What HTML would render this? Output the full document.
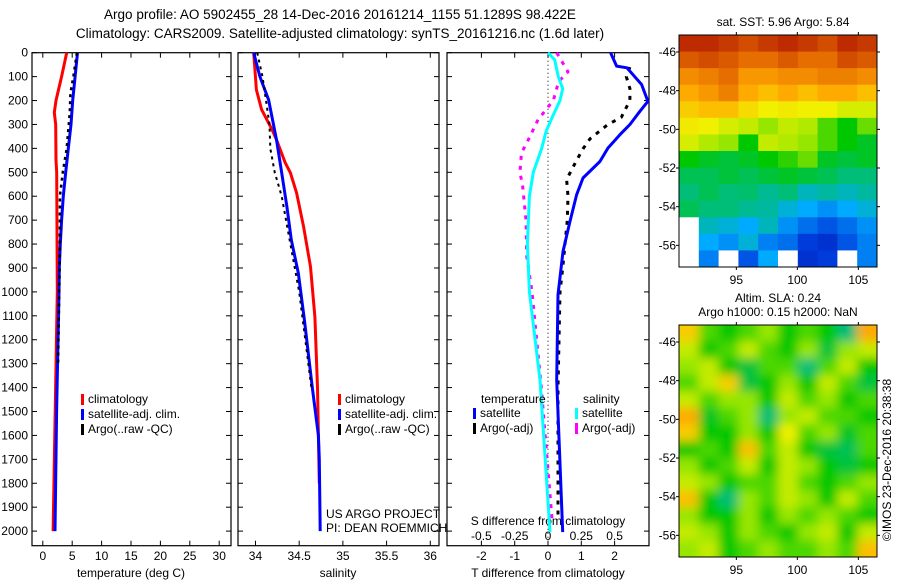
<!DOCTYPE html>
<html><head><meta charset="utf-8"><style>
body{margin:0;background:#fff;}
svg{display:block;font-family:"Liberation Sans",sans-serif;}
</style></head><body>
<svg id="c" width="900" height="580" viewBox="0 0 900 580" xmlns="http://www.w3.org/2000/svg">
<defs>
<filter id="blur" x="-5%" y="-5%" width="110%" height="110%"><feGaussianBlur stdDeviation="5"/></filter>
<clipPath id="slaclip"><rect x="679" y="325" width="198" height="232"/></clipPath>
<clipPath id="sstclip"><rect x="679" y="35" width="198" height="232"/></clipPath>
</defs>
<text x="340" y="19" font-size="13.5" text-anchor="middle">Argo profile: AO 5902455_28 14-Dec-2016 20161214_1155 51.1289S 98.422E</text>
<text x="340" y="38" font-size="13.5" text-anchor="middle">Climatology: CARS2009. Satellite-adjusted climatology: synTS_20161216.nc (1.6d later)</text>
<g id="g"></g>
</svg>
<script>
// ---------- profile data (depth in m) ----------
const climTDepth=[0,100,200,250,300,450,500,1000,2000];
const climTVal=[4.06,3.2,2.25,1.96,2.2,2.25,2.36,2.47,1.75];
const satTDepth=[0,100,200,300,400,500,600,700,800,900,1000,1500,2000];
const satTVal=[5.9,5.5,5.08,4.8,4.34,3.9,3.49,3.2,2.98,2.8,2.75,2.35,2.08];
const argoTDepth=[0,100,170,250,400,500,600,800,900,1300];
const argoTVal=[5.8,5.2,4.7,4.6,4.06,3.4,2.9,2.9,2.85,2.6];
const climSDepth=[0,155,238,322,364,460,502,586,728,895,1105,1400,1800];
const climSVal=[33.98,34.01,34.07,34.19,34.24,34.34,34.40,34.47,34.55,34.63,34.68,34.71,34.73];
const satSDepth=[0,100,197,364,502,644,782,921,1117,1400,1600,1700,2000];
const satSVal=[33.98,34.05,34.15,34.24,34.30,34.36,34.41,34.49,34.56,34.65,34.72,34.73,34.74];
const argoSDepth=[0,100,200,300,400,500,600,800,1000,1200,1400];
const argoSVal=[34.02,34.08,34.12,34.16,34.17,34.22,34.30,34.40,34.50,34.57,34.64];
const dTsatDepth=[0,56,63,133,203,245,300,343,399,455,524,594,705,831,1012,1368,2004];
const dTsatVal=[1.88,2.06,2.37,2.81,3.0,2.76,2.46,2.16,1.8,1.56,1.05,0.86,0.66,0.45,0.3,0.26,0.44];
const dTargoDepth=[60,100,150,200,270,300,360,400,450,530,600,700,800,900,1000,1400,1950];
const dTargoVal=[2.46,2.35,2.46,2.46,2.2,1.8,1.26,1.06,0.86,0.56,0.6,0.58,0.51,0.44,0.36,0.3,0.3];
const dSsatDepth=[0,30,100,150,200,260,330,400,500,600,800,1000,1368,2004];
const dSsatVal=[0,0.05,0.077,0.11,0.09,0.04,-0.015,-0.047,-0.11,-0.14,-0.155,-0.14,-0.06,0.015];
const dSargoDepth=[0,80,120,200,280,350,420,500,560,700,850,1000,1400,1950];
const dSargoVal=[0.065,0.15,0.08,0.04,-0.075,-0.135,-0.2,-0.21,-0.19,-0.165,-0.16,-0.12,-0.05,0.03];
const depthTicks=[0,100,200,300,400,500,600,700,800,900,1000,1100,1200,1300,1400,1500,1600,1700,1800,1900,2000];
const tTicks=[0,5,10,15,20,25,30];
const sTicks=[34,34.5,35,35.5,36];
const sTickLabels=["34","34.5","35","35.5","36"];
const dTTicks=[-2,-1,0,1,2];
const dSTicks=[-0.5,-0.25,0,0.25,0.5];
const dSTickLabels=["-0.5","-0.25","0","0.25","0.5"];
// ---------- map data (0..1 colour scale, -1 = no data) ----------
const sstGrid=[
[.95,.95,.93,.9,.93,.95,.93,.9,.95,.93],
[.88,.9,.88,.85,.85,.88,.85,.85,.9,.88],
[.8,.82,.85,.78,.78,.8,.8,.82,.82,.8],
[.75,.78,.82,.75,.72,.75,.72,.75,.75,.72],
[.7,.72,.72,.68,.65,.66,.65,.65,.62,.62],
[.66,.65,.62,.6,.55,.6,.58,.5,.45,.52],
[.62,.58,.55,.45,.6,.58,.55,.5,.45,.42],
[.45,.42,.4,.42,.45,.48,.52,.42,.4,.42],
[.38,.38,.4,.38,.4,.42,.4,.38,.35,.35],
[.35,.38,.35,.36,.33,.35,.3,.32,.3,.32],
[.38,.35,.35,.33,.32,.28,.25,.22,.25,.28],
[-1,.3,.28,.25,.3,.22,.18,.15,.18,.22],
[-1,.25,.22,.28,.2,.18,.12,.1,.15,.2],
[-1,.2,-1,.15,.25,-1,.1,.12,-1,.2]];
const slaGrid=[
[.7,.5,.45,.5,.55,.45,.5,.45,.35,.75],
[.6,.45,.5,.6,.5,.45,.55,.4,.55,.6],
[.55,.6,.45,.4,.5,.5,.35,.5,.6,.45],
[.5,.6,.7,.4,.45,.55,.45,.6,.5,.4],
[.6,.5,.55,.55,.45,.6,.5,.55,.45,.5],
[.75,.42,.5,.55,.35,.55,.6,.5,.5,.45],
[.7,.45,.45,.55,.45,.65,.5,.55,.42,.5],
[.45,.5,.45,.72,.5,.6,.45,.4,.38,.5],
[.55,.45,.5,.6,.45,.6,.55,.45,.4,.45],
[.6,.55,.45,.5,.5,.6,.5,.45,.5,.55],
[.72,.45,.35,.55,.5,.6,.55,.45,.6,.5],
[.55,.45,.45,.55,.45,.55,.5,.55,.5,.45],
[.6,.55,.45,.55,.5,.45,.55,.6,.45,.6],
[.55,.6,.45,.5,.55,.5,.5,.55,.5,.72]];
const latTicks=[-46,-48,-50,-52,-54,-56];
const lonTicks=[95,100,105];

const NS="http://www.w3.org/2000/svg";
const G=document.getElementById('g');
function mk(tag,attrs,parent,txt){const e=document.createElementNS(NS,tag);for(const k in attrs)e.setAttribute(k,attrs[k]);if(txt!==undefined)e.textContent=txt;(parent||G).appendChild(e);return e;}
const yD=d=>52.7+d*0.2392;
const xT=t=>42.8+t*5.88;
const xS=s=>238+(s-33.8)*87.4;
const xDT=t=>548+t*33.3;
const xDS=s=>548+s*133.2;
const TOP=52.7,BOT=545.7;

function panel(x0,x1,name){
  const r=mk('rect',{x:x0,y:TOP,width:x1-x0,height:BOT-TOP,fill:'none',stroke:'#000','stroke-width':1.2});
  
  depthTicks.forEach(d=>{const y=yD(d);
    const t1=mk('line',{x1:x0,x2:x0+5,y1:y,y2:y,stroke:'#000'});
    const t2=mk('line',{x1:x1-5,x2:x1,y1:y,y2:y,stroke:'#000'});});
}
function xticks(vals,labels,fx,name,ly,top){
  vals.forEach((v,i)=>{const x=fx(v);
    const a=mk('line',{x1:x,x2:x,y1:BOT-5,y2:BOT,stroke:'#000'});
    if(top){const b=mk('line',{x1:x,x2:x,y1:TOP,y2:TOP+5,stroke:'#000'});}
    const t=mk('text',{x:x,y:ly,'font-size':12,'text-anchor':'middle'},G,labels[i]);});
}
function line(ds,vs,fx,color,name,dash,w){
  const pts=ds.map((d,i)=>fx(vs[i]).toFixed(1)+','+yD(d).toFixed(1)).join(' ');
  const a={points:pts,fill:'none',stroke:color,'stroke-width':w||3,'stroke-linejoin':'round'};
  if(dash)a['stroke-dasharray']=dash;
  const p=mk('polyline',a);
}
function legend(x,y,color,label,name){
  const b=mk('rect',{x:x,y:y-9,width:3,height:11,fill:color});
  const t=mk('text',{x:x+7,y:y,'font-size':12},G,label);
}
panel(32,231,'temperature-panel');panel(238,439,'salinity-panel');panel(447,649,'difference-panel');
depthTicks.forEach(d=>{const t=mk('text',{x:28,y:yD(d)+4,'font-size':12,'text-anchor':'end'},G,String(d));});
xticks(tTicks,tTicks.map(String),xT,'temperature-axis',560,true);
xticks(sTicks,sTickLabels,xS,'salinity-axis',560,true);
xticks(dTTicks,dTTicks.map(String),xDT,'t-diff-axis',560,true);
dSTicks.forEach((v,i)=>{const t=mk('text',{x:xDS(v),y:540,'font-size':12,'text-anchor':'middle'},G,dSTickLabels[i]);});
let t;
t=mk('text',{x:131,y:577,'font-size':12,'text-anchor':'middle'},G,'temperature (deg C)');
t=mk('text',{x:338,y:577,'font-size':12,'text-anchor':'middle'},G,'salinity');
t=mk('text',{x:548,y:577,'font-size':12,'text-anchor':'middle'},G,'T difference from climatology');
t=mk('text',{x:548,y:525,'font-size':12,'text-anchor':'middle'},G,'S difference from climatology');
t=mk('text',{x:326,y:518,'font-size':12},G,'US ARGO PROJECT');
t=mk('text',{x:326,y:532,'font-size':12},G,'PI: DEAN ROEMMICH');
const z=mk('line',{x1:xDT(0),x2:xDT(0),y1:TOP,y2:BOT,stroke:'#000','stroke-dasharray':'1 3'});
line(climTDepth,climTVal,xT,'#f00','temperature-climatology-line');
line(satTDepth,satTVal,xT,'#00f','temperature-satellite-line');
line(argoTDepth,argoTVal,xT,'#000','temperature-argo-line','3 4',2.5);
line(climSDepth,climSVal,xS,'#f00','salinity-climatology-line');
line(satSDepth,satSVal,xS,'#00f','salinity-satellite-line');
line(argoSDepth,argoSVal,xS,'#000','salinity-argo-line','3 4',2);
line(dTargoDepth,dTargoVal,xDT,'#000','t-diff-argo-line','4 6',3);
line(dTsatDepth,dTsatVal,xDT,'#00f','t-diff-satellite-line');
line(dSargoDepth,dSargoVal,xDS,'#f0f','s-diff-argo-line','4 6',3);
line(dSsatDepth,dSsatVal,xDS,'#0ff','s-diff-satellite-line');
legend(81,403,'#f00','climatology','legend-t-climatology');
legend(81,418,'#00f','satellite-adj. clim.','legend-t-satellite');
legend(81,433,'#000','Argo(..raw -QC)','legend-t-argo');
legend(338,403,'#f00','climatology','legend-s-climatology');
legend(338,418,'#00f','satellite-adj. clim.','legend-s-satellite');
legend(338,433,'#000','Argo(..raw -QC)','legend-s-argo');
t=mk('text',{x:481,y:403,'font-size':12},G,'temperature');
t=mk('text',{x:583,y:403,'font-size':12},G,'salinity');
legend(473,417,'#00f','satellite','legend-dt-satellite');
legend(473,432,'#000','Argo(-adj)','legend-dt-argo');
legend(575,417,'#0ff','satellite','legend-ds-satellite');
legend(575,432,'#f0f','Argo(-adj)','legend-ds-argo');
// ---------- maps ----------
const stops=[[0,[0,0,140]],[.12,[0,60,220]],[.25,[0,170,255]],[.35,[0,190,120]],[.45,[0,200,0]],[.55,[150,230,0]],[.65,[240,240,0]],[.75,[255,170,0]],[.85,[230,110,0]],[1,[170,10,0]]];
function cmap(v){for(let i=1;i<stops.length;i++){if(v<=stops[i][0]){const a=stops[i-1],b=stops[i],f=(v-a[0])/(b[0]-a[0]);return 'rgb('+a[1].map((c,k)=>Math.round(c+(b[1][k]-c)*f)).join(',')+')';}}return 'rgb(170,10,0)';}
function drawMap(grid,y0,y1,name,blur,clip){
  const x0=679,x1=877,rows=grid.length,cols=grid[0].length,cw=(x1-x0)/cols,rh=(y1-y0)/rows;
  const outer=mk('g',{'clip-path':'url(#'+clip+')'});
  
  const inner=mk('g',blur?{filter:'url(#blur)'}:{},outer);
  grid.forEach((row,r)=>row.forEach((v,c)=>{
    let cx=x0+c*cw,cy=y0+r*rh,w=cw+0.6,h=rh+0.6;
    if(blur){if(c===0){cx-=10;w+=10;}if(c===cols-1)w+=10;if(r===0){cy-=10;h+=10;}if(r===rows-1)h+=10;}
    const cell=mk('rect',{x:cx.toFixed(2),y:cy.toFixed(2),width:w.toFixed(2),height:h.toFixed(2),fill:v<0?'#fff':cmap(v)},inner);
    }));
  const f=mk('rect',{x:x0,y:y0,width:x1-x0,height:y1-y0,fill:'none',stroke:'#000'});
  const ppd=(y1-y0)/12.0, lat0=-45.12;
  latTicks.forEach(l=>{const y=y0+(lat0-l)*ppd;
    const a=mk('line',{x1:x0-3,x2:x0,y1:y,y2:y,stroke:'#000'});
    const b=mk('line',{x1:x1,x2:x1+3,y1:y,y2:y,stroke:'#000'});
    const tx=mk('text',{x:x0-3,y:y+4,'font-size':12,'text-anchor':'end'},G,String(l));});
  lonTicks.forEach(l=>{const x=x0+(l-90.3)*12.2;
    const a=mk('line',{x1:x,x2:x,y1:y1,y2:y1+3,stroke:'#000'});
    const b=mk('line',{x1:x,x2:x,y1:y0-3,y2:y0,stroke:'#000'});
    const tx=mk('text',{x:x,y:y1+17,'font-size':12,'text-anchor':'middle'},G,String(l));});
}
drawMap(sstGrid,35,267,'sst-map',false,'sstclip');
drawMap(slaGrid,325,557,'sla-map',true,'slaclip');
t=mk('text',{x:783,y:26,'font-size':12,'text-anchor':'middle'},G,'sat. SST: 5.96 Argo: 5.84');
t=mk('text',{x:778,y:302,'font-size':12,'text-anchor':'middle'},G,'Altim. SLA: 0.24');
t=mk('text',{x:778,y:316,'font-size':12,'text-anchor':'middle'},G,'Argo h1000: 0.15 h2000: NaN');
t=mk('text',{x:0,y:0,'font-size':12,'text-anchor':'middle',transform:'translate(891,460) rotate(-90)'},G,'©IMOS 23-Dec-2016 20:38:38');
</script>
</body></html>
